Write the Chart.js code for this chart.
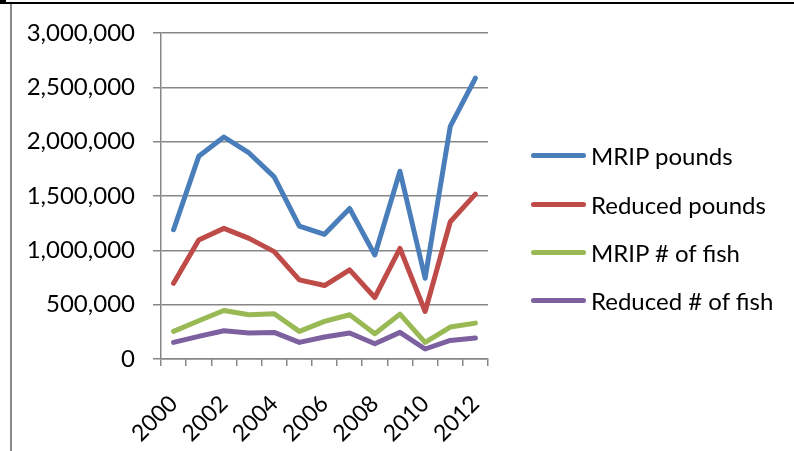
<!DOCTYPE html>
<html>
<head>
<meta charset="utf-8">
<script src="https://cdn.jsdelivr.net/npm/chart.js@4/dist/chart.umd.min.js"></script>
<style>
  html, body { margin: 0; padding: 0; background: #fff; }
  #wrap { position: relative; width: 794px; height: 451px; overflow: hidden; font-family: Lato, "Open Sans", sans-serif; }
  #topline { position: absolute; left: 0; top: 2px; width: 794px; height: 2px; background: #000; }
  #topleft { position: absolute; left: 0; top: 0; width: 6px; height: 4px; background: #000; }
  #leftline { position: absolute; left: 10px; top: 4px; width: 2px; height: 447px; background: #8a8a8a; }
  #c { position: absolute; left: 0; top: 0; }
  #legend { position: absolute; left: 531px; top: 0; }
  .item { position: absolute; left: 0; height: 30px; white-space: nowrap; }
  .sw { position: absolute; left: 0; width: 55px; height: 5px; border-radius: 3px; }
  .tx { position: absolute; left: 60px; font-size: 24px; color: #000; line-height: 30px; }
</style>
</head>
<body>
<div id="wrap">
  <canvas id="c" width="794" height="451"></canvas>
  <div id="topline"></div>
  <div id="topleft"></div>
  <div id="leftline"></div>
  <div id="legend"></div>
</div>
<script>
const years = ['2000','2001','2002','2003','2004','2005','2006','2007','2008','2009','2010','2011','2012'];
const mripPounds    = [1190000, 1865000, 2043000, 1896000, 1676000, 1223000, 1147000, 1385000, 957000, 1728000, 743000, 2141000, 2584000];
const reducedPounds = [697000, 1095000, 1202000, 1110000, 988000, 728000, 676000, 820000, 566000, 1018000, 437000, 1263000, 1517000];
const mripFish      = [254000, 352000, 446000, 407000, 416000, 254000, 346000, 407000, 232000, 413000, 153000, 294000, 330000];
const reducedFish   = [153000, 208000, 260000, 239000, 245000, 153000, 202000, 239000, 141000, 245000, 92000, 171000, 193000];
const seriesNames   = ['MRIP pounds', 'Reduced pounds', 'MRIP # of fish', 'Reduced # of fish'];
const yTicks        = [0, 500000, 1000000, 1500000, 2000000, 2500000, 3000000];

const colors = ['#4A7EBB', '#BE4B48', '#98B954', '#7D60A0'];
const seriesData = [mripPounds, reducedPounds, mripFish, reducedFish];

const datasets = seriesData.map((d, i) => ({
  label: seriesNames[i],
  data: d,
  borderColor: colors[i],
  backgroundColor: colors[i],
  borderWidth: 5,
  pointRadius: 0,
  tension: 0,
  fill: false,
  borderCapStyle: 'round',
  borderJoinStyle: 'round'
}));

const fontFamily = 'Lato, "Open Sans", sans-serif';
const gridColor = '#878787';

new Chart(document.getElementById('c'), {
  type: 'line',
  data: { labels: years, datasets },
  options: {
    responsive: false,
    animation: false,
    devicePixelRatio: 1,
    layout: { padding: { left: 0, right: 306, top: 33, bottom: 0 } },
    plugins: { legend: { display: false }, tooltip: { enabled: false } },
    scales: {
      x: {
        type: 'category',
        offset: true,
        grid: { display: true, drawOnChartArea: false, drawTicks: true, tickLength: 7, color: gridColor, lineWidth: 1.5, offset: true },
        border: { display: true, color: gridColor, width: 1.5 },
        ticks: {
          autoSkip: false,
          maxRotation: 45, minRotation: 45,
          padding: 24,
          color: '#000',
          font: { family: fontFamily, size: 23 },
          callback: function(val, i) { return i % 2 === 0 ? years[i] : ''; }
        },
        afterFit: function(axis) { axis.height = 92; }
      },
      y: {
        min: 0, max: 3000000,
        afterBuildTicks: function(axis) { axis.ticks = yTicks.map(v => ({ value: v })); },
        grid: { color: gridColor, lineWidth: 1.5, tickLength: 8, drawTicks: true },
        border: { display: true, color: gridColor, width: 1.5 },
        ticks: {
          padding: 18,
          color: '#000',
          font: { family: fontFamily, size: 24 },
          callback: function(v) { return Number(v).toLocaleString('en-US'); }
        },
        afterFit: function(axis) { axis.width = 161; }
      }
    }
  }
});

const legendEl = document.getElementById('legend');
const legendY = [156, 205, 253, 301];
seriesNames.forEach((name, i) => {
  const it = document.createElement('div');
  it.className = 'item';
  it.style.top = (legendY[i] - 15) + 'px';
  const sw = document.createElement('div');
  sw.className = 'sw';
  sw.style.top = '12px';
  sw.style.background = colors[i];
  const tx = document.createElement('div');
  tx.className = 'tx';
  tx.style.top = '0px';
  tx.textContent = name;
  it.appendChild(sw); it.appendChild(tx);
  legendEl.appendChild(it);
});
</script>
</body>
</html>
